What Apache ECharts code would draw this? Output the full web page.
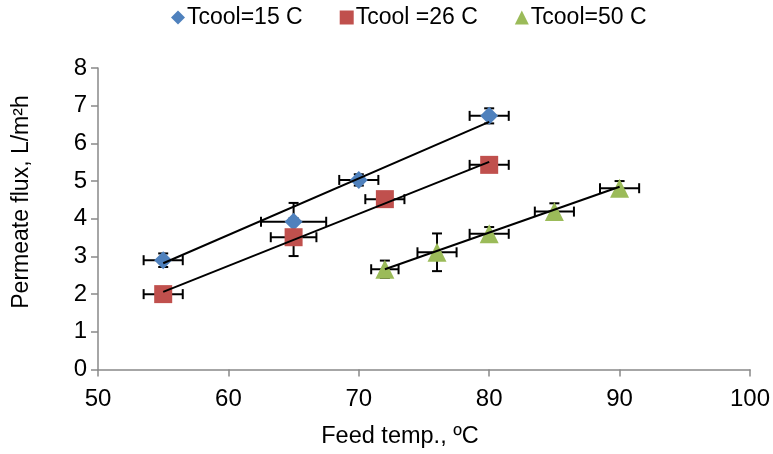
<!DOCTYPE html>
<html>
<head>
<meta charset="utf-8">
<script src="https://cdn.jsdelivr.net/npm/echarts@6/dist/echarts.min.js"></script>
<style>html,body{margin:0;padding:0;background:#fff}#c{width:773px;height:454px}</style>
</head>
<body>
<div id="c"></div>
<script>
// ---- data ----
const seriesNames = ['Tcool=15 C', 'Tcool =26 C', 'Tcool=50 C'];
const xTicks = [50, 60, 70, 80, 90, 100];
const yTicks = [0, 1, 2, 3, 4, 5, 6, 7, 8];

const feed15 = [55, 65, 70, 80];
const flux15 = [2.9, 3.92, 5.03, 6.73];
const xErr15 = [1.5, 2.5, 1.5, 1.5];
const yErr15 = [0.18, 0.5, 0.15, 0.2];

const feed26 = [55, 65, 72, 80];
const flux26 = [2.0, 3.51, 4.52, 5.43];
const xErr26 = [1.5, 1.75, 1.5, 1.5];
const yErr26 = [0.1, 0.5, 0.1, 0.1];

const feed50 = [72, 76, 80, 85, 90];
const flux50 = [2.66, 3.11, 3.6, 4.19, 4.81];
const xErr50 = [1.05, 1.5, 1.5, 1.5, 1.5];
const yErr50 = [0.23, 0.5, 0.18, 0.22, 0.19];

// trend line end points (x, y)
const trend15X = [55, 80], trend15Y = [2.82, 6.57];
const trend26X = [55, 80], trend26Y = [2.06, 5.51];
const trend50X = [72, 90], trend50Y = [2.66, 4.85];

const colors = ['#4F81BD', '#C0504D', '#9BBB59'];
const symbols = ['diamond', 'rect', 'triangle'];
const symbolSizes = [18, 18, 19];

const zip = (a, b) => a.map((v, i) => [v, b[i]]);
const zip4 = (a, b, c, d) => a.map((v, i) => [v, b[i], c[i], d[i]]);

const groups = [
  {x: feed15, y: flux15, ex: xErr15, ey: yErr15, tx: trend15X, ty: trend15Y},
  {x: feed26, y: flux26, ex: xErr26, ey: yErr26, tx: trend26X, ty: trend26Y},
  {x: feed50, y: flux50, ex: xErr50, ey: yErr50, tx: trend50X, ty: trend50Y}
];

function errRender(params, api) {
  const x = api.value(0), y = api.value(1), ex = api.value(2), ey = api.value(3);
  const l = api.coord([x - ex, y]), r = api.coord([x + ex, y]);
  const t = api.coord([x, y + ey]), b = api.coord([x, y - ey]);
  const cap = 5;
  const st = {stroke: '#000', lineWidth: 2};
  const L = (x1, y1, x2, y2) => ({type: 'line', shape: {x1, y1, x2, y2}, style: st});
  return {
    type: 'group',
    children: [
      L(l[0], l[1], r[0], r[1]),
      L(l[0], l[1] - cap, l[0], l[1] + cap),
      L(r[0], r[1] - cap, r[0], r[1] + cap),
      L(t[0], t[1], b[0], b[1]),
      L(t[0] - cap, t[1], t[0] + cap, t[1]),
      L(b[0] - cap, b[1], b[0] + cap, b[1])
    ]
  };
}

const series = [];
groups.forEach((g, i) => {
  series.push({
    name: 'err' + i, type: 'custom', data: zip4(g.x, g.y, g.ex, g.ey),
    renderItem: errRender, encode: {x: 0, y: 1}, z: 2, clip: false, silent: true
  });
  series.push({
    name: seriesNames[i], type: 'scatter', data: zip(g.x, g.y),
    symbol: symbols[i], symbolSize: symbolSizes[i],
    itemStyle: {color: colors[i], opacity: 1}, z: 3, emphasis: {disabled: true}
  });
  series.push({
    name: 'trend' + i, type: 'line', data: zip(g.tx, g.ty), showSymbol: false,
    lineStyle: {color: '#000', width: 2}, itemStyle: {color: '#000'}, z: 4, silent: true
  });
});

const font = 'Liberation Sans, Arial, sans-serif';
const chart = echarts.init(document.getElementById('c'), null, {renderer: 'canvas'});
chart.setOption({
  animation: false,
  backgroundColor: '#fff',
  textStyle: {fontFamily: font},
  grid: {left: 98, right: 22, top: 68, bottom: 84.5, containLabel: false},
  legend: {
    data: seriesNames.map((n, i) => ({name: n, icon: symbols[i]})),
    left: 166, top: 1, itemWidth: 14, itemHeight: 14, itemGap: 37,
    textStyle: {fontSize: 23, color: '#000', fontFamily: font, padding: [0, 0, 0, -3]},
    selectedMode: false
  },
  xAxis: {
    type: 'value', min: xTicks[0], max: xTicks[xTicks.length - 1], interval: 10,
    axisLine: {show: true, onZero: false, lineStyle: {color: '#898989', width: 1.5}},
    axisTick: {show: true, length: 7, inside: false, lineStyle: {color: '#898989', width: 1.5}},
    axisLabel: {fontSize: 24, color: '#000', margin: 18, fontFamily: font},
    splitLine: {show: false}
  },
  yAxis: {
    type: 'value', min: yTicks[0], max: yTicks[yTicks.length - 1], interval: 1,
    axisLine: {show: true, onZero: false, lineStyle: {color: '#898989', width: 1.5}},
    axisTick: {show: true, length: 7, inside: false, lineStyle: {color: '#898989', width: 1.5}},
    axisLabel: {fontSize: 24, color: '#000', margin: 11, fontFamily: font},
    splitLine: {show: false}
  },
  graphic: [
    {type: 'text', x: 22, y: 202, rotation: Math.PI / 2,
     style: {text: 'Permeate flux, L/m²h', font: '23px ' + font, fill: '#000', align: 'center', verticalAlign: 'middle'}},
    {type: 'text', x: 400, y: 437,
     style: {text: 'Feed temp., ºC', font: '23.5px ' + font, fill: '#000', align: 'center', verticalAlign: 'middle'}}
  ],
  series: series
});
</script>
</body>
</html>
